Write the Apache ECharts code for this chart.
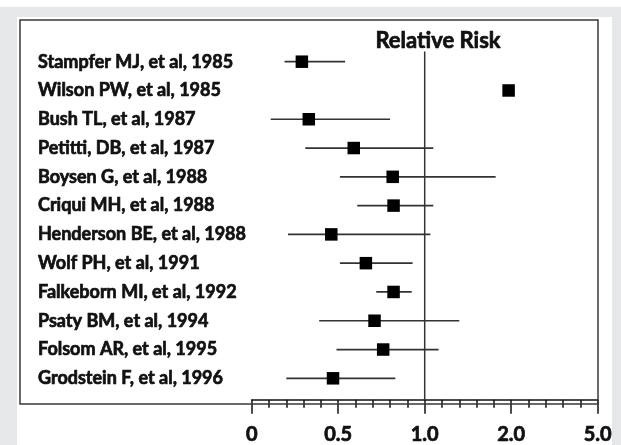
<!DOCTYPE html>
<html>
<head>
<meta charset="utf-8">
<script src="https://cdn.jsdelivr.net/npm/echarts@6/dist/echarts.min.js"></script>
<style>
  html, body { margin: 0; padding: 0; background: #ffffff; }
  #chart { width: 621px; height: 445px; }
</style>
</head>
<body>
<div id="chart"></div>
<script>
// ---- data ----
const studies = [
  'Stampfer MJ, et al, 1985',
  'Wilson PW, et al, 1985',
  'Bush TL, et al, 1987',
  'Petitti, DB, et al, 1987',
  'Boysen G, et al, 1988',
  'Criqui MH, et al, 1988',
  'Henderson BE, et al, 1988',
  'Wolf PH, et al, 1991',
  'Falkeborn MI, et al, 1992',
  'Psaty BM, et al, 1994',
  'Folsom AR, et al, 1995',
  'Grodstein F, et al, 1996'
];
const relativeRisk = [0.29, 1.97, 0.33, 0.59, 0.815, 0.82, 0.46, 0.66, 0.82, 0.71, 0.76, 0.47];
const ciLower      = [0.19, null, 0.11, 0.31, 0.51, 0.61, 0.21, 0.51, 0.72, 0.39, 0.49, 0.20];
const ciUpper      = [0.54, null, 0.80, 1.10, 1.82, 1.10, 1.065, 0.93, 0.925, 1.40, 1.16, 0.83];
const tickValues   = [0, 0.5, 1.0, 2.0, 5.0];
const tickLabels   = ['0', '0.5', '1.0', '2.0', '5.0'];
const referenceRR  = 1.0;
const axisTitle    = 'Relative Risk';

// piecewise scale: tick values are equally spaced on the axis
function toPos(v) {
  if (v == null) return null;
  for (let i = 0; i < tickValues.length - 1; i++) {
    const a = tickValues[i], b = tickValues[i + 1];
    if (v <= b || i === tickValues.length - 2) return i + (v - a) / (b - a);
  }
}

const FONT = 'Lato, "Liberation Sans", sans-serif';
const INK = '#111';
const heavy = { fontFamily: FONT, fontWeight: 'bold', color: INK, textBorderColor: INK, textBorderWidth: 0.7 };
const chart = echarts.init(document.getElementById('chart'), null, { renderer: 'canvas' });

const ciData = studies.map((s, i) => [toPos(ciLower[i]), toPos(ciUpper[i]), i]);
const ptData = studies.map((s, i) => [toPos(relativeRisk[i]), i]);

const option = {
  backgroundColor: '#ffffff',
  animation: false,
  title: {
    text: axisTitle,
    left: 433, top: 25, textAlign: 'center',
    textStyle: Object.assign({}, heavy, { fontSize: 22 })
  },
  graphic: [
    { type: 'rect', z: -10, shape: { x: 0, y: 7, width: 621, height: 438 }, style: { fill: '#e6e7e8' } },
    { type: 'rect', z: -9, shape: { x: 17, y: 17, width: 595, height: 428 }, style: { fill: '#ffffff' } },
    { type: 'rect', z: 5, shape: { x: 20, y: 20, width: 578, height: 384 }, style: { fill: 'none', stroke: '#3a3a3a', lineWidth: 1.5 } }
  ],
  grid: [
    { left: 251.7, right: 23.3, top: 20, bottom: 41 },
    { left: 251.7, right: 23.3, top: 47.3, height: 345.4 }
  ],
  xAxis: [
    {
      gridIndex: 0, type: 'value', min: 0, max: tickValues.length - 1, interval: 1,
      axisLine: { show: true, lineStyle: { color: INK, width: 1.5 } },
      axisTick: { show: true, length: 14, lineStyle: { color: INK, width: 1.5 } },
      minorTick: { show: true, splitNumber: 5, length: 8, lineStyle: { color: INK, width: 1.5 } },
      splitLine: { show: false },
      axisLabel: Object.assign({}, heavy, {
        margin: 25, fontSize: 20,
        formatter: v => tickLabels[Math.round(v)] ?? ''
      })
    },
    {
      gridIndex: 1, type: 'value', min: 0, max: tickValues.length - 1, show: false
    }
  ],
  yAxis: [
    { gridIndex: 0, type: 'value', min: 0, max: 1, show: false },
    {
      gridIndex: 1, type: 'category', data: studies, inverse: true,
      axisLine: { show: false }, axisTick: { show: false }, splitLine: { show: false },
      axisLabel: Object.assign({}, heavy, {
        align: 'left', margin: 213.7, padding: [4, 0, 0, 0], fontSize: 18
      })
    }
  ],
  series: [
    {
      type: 'line', xAxisIndex: 0, yAxisIndex: 0, symbol: 'none', silent: true,
      lineStyle: { color: '#333', width: 1.5 },
      data: [[toPos(referenceRR), 0], [toPos(referenceRR), 0.917]]
    },
    {
      type: 'custom', xAxisIndex: 1, yAxisIndex: 1, silent: true,
      data: ciData,
      renderItem: function (params, api) {
        const lo = api.value(0), hi = api.value(1), idx = api.value(2);
        if (lo == null || hi == null || isNaN(lo) || isNaN(hi)) return null;
        const p1 = api.coord([lo, idx]);
        const p2 = api.coord([hi, idx]);
        return {
          type: 'line',
          shape: { x1: p1[0], y1: p1[1], x2: p2[0], y2: p2[1] },
          style: { stroke: '#333', lineWidth: 1.7 }
        };
      }
    },
    {
      type: 'scatter', xAxisIndex: 1, yAxisIndex: 1, silent: true,
      symbol: 'rect', symbolSize: 12.5,
      itemStyle: { color: '#000', opacity: 1 },
      data: ptData, z: 10
    }
  ]
};
chart.setOption(option);
</script>
</body>
</html>
